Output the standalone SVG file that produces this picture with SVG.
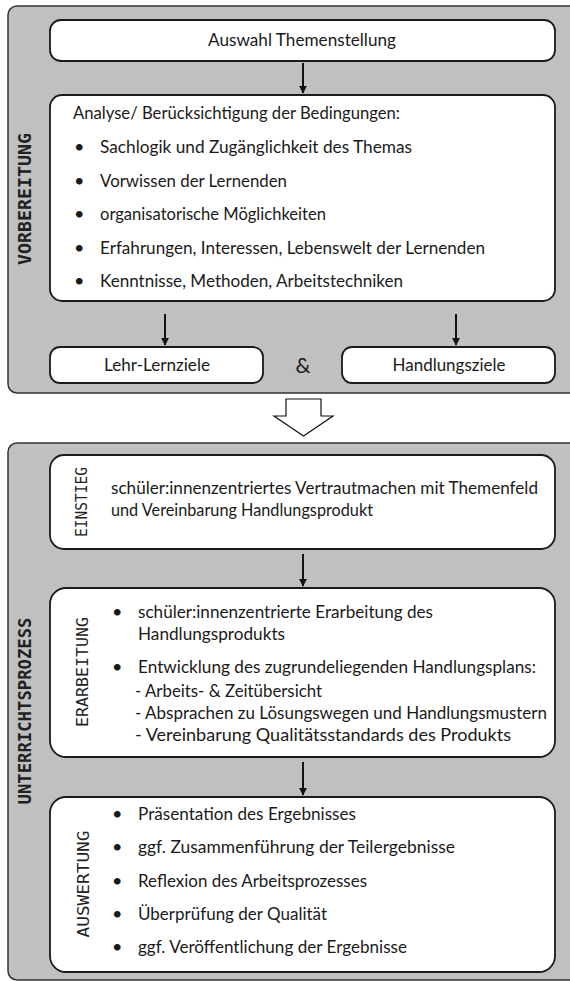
<svg xmlns="http://www.w3.org/2000/svg" width="570" height="981" viewBox="0 0 570 981">
  <defs>
    <marker id="head" viewBox="0 0 10 10" refX="9" refY="5" markerWidth="4" markerHeight="4" orient="auto" markerUnits="strokeWidth">
      <path d="M0,0 L10,5 L0,10 z" fill="#111"/>
    </marker>
    <style>
      .panel { fill: #c0c0c0; stroke: #333; stroke-width: 1.5; }
      .box { fill: #ffffff; stroke: #1a1a1a; stroke-width: 1.8; }
      .t { font-family: Lato, "Open Sans", "Liberation Sans", sans-serif; font-size: 18px; fill: #1a1a1a; }
      .c { text-anchor: middle; }
      .amp { font-size: 21px; }
      .sec { font-family: "DejaVu Sans Mono", "Liberation Mono", monospace; font-weight: bold; font-size: 17px; fill: #222; text-anchor: middle; }
      .sub { font-family: "DejaVu Sans Mono", "Liberation Mono", monospace; font-size: 16px; fill: #222; text-anchor: middle; }
      .small { font-size: 15px; }
      .link { stroke: #111; stroke-width: 2; fill: none; marker-end: url(#head); }
    </style>
  </defs>

  <rect width="570" height="981" fill="#ffffff"/>

  <!-- Vorbereitung -->
  <g id="vorbereitung">
    <rect class="panel" x="8" y="6" width="580" height="387" rx="9"/>
    <text class="sec" transform="translate(31,199) rotate(-90)" textLength="132" lengthAdjust="spacingAndGlyphs">VORBEREITUNG</text>
  </g>

  <g id="auswahl">
    <rect class="box" x="50" y="20" width="505" height="41" rx="11"/>
    <text class="t c" x="302" y="46" textLength="188" lengthAdjust="spacingAndGlyphs">Auswahl Themenstellung</text>
  </g>

  <g id="analyse">
    <rect class="box" x="50" y="95" width="505" height="206" rx="12"/>
    <text class="t" x="73" y="119" textLength="327" lengthAdjust="spacingAndGlyphs">Analyse/ Berücksichtigung der Bedingungen:</text>
    <text class="t" x="74" y="153">•</text>
    <text class="t" x="100" y="153" textLength="312" lengthAdjust="spacingAndGlyphs">Sachlogik und Zugänglichkeit des Themas</text>
    <text class="t" x="74" y="187">•</text>
    <text class="t" x="100" y="187" textLength="187" lengthAdjust="spacingAndGlyphs">Vorwissen der Lernenden</text>
    <text class="t" x="74" y="220">•</text>
    <text class="t" x="100" y="220" textLength="226" lengthAdjust="spacingAndGlyphs">organisatorische Möglichkeiten</text>
    <text class="t" x="74" y="254">•</text>
    <text class="t" x="100" y="254" textLength="385" lengthAdjust="spacingAndGlyphs">Erfahrungen, Interessen, Lebenswelt der Lernenden</text>
    <text class="t" x="74" y="287">•</text>
    <text class="t" x="100" y="287" textLength="303" lengthAdjust="spacingAndGlyphs">Kenntnisse, Methoden, Arbeitstechniken</text>
  </g>

  <g id="lehrlernziele">
    <rect class="box" x="50" y="347" width="213" height="36" rx="10"/>
    <text class="t c" x="157" y="371" textLength="106" lengthAdjust="spacingAndGlyphs">Lehr-Lernziele</text>
  </g>

  <g id="und">
    <text class="t c amp" x="303" y="373">&amp;</text>
  </g>

  <g id="handlungsziele">
    <rect class="box" x="342" y="347" width="213" height="36" rx="10"/>
    <text class="t c" x="449" y="371" textLength="113" lengthAdjust="spacingAndGlyphs">Handlungsziele</text>
  </g>

  <!-- Unterrichtsprozess -->
  <g id="unterrichtsprozess">
    <rect class="panel" x="8" y="443" width="580" height="537" rx="9"/>
    <text class="sec" transform="translate(31,711) rotate(-90)" textLength="187" lengthAdjust="spacingAndGlyphs">UNTERRICHTSPROZESS</text>
  </g>

  <g id="einstieg">
    <rect class="box" x="50" y="455" width="505" height="94" rx="14"/>
    <text class="sub small" transform="translate(87,502) rotate(-90)" textLength="70" lengthAdjust="spacingAndGlyphs">EINSTIEG</text>
    <text class="t" x="111" y="494" textLength="427" lengthAdjust="spacingAndGlyphs">schüler:innenzentriertes Vertrautmachen mit Themenfeld</text>
    <text class="t" x="111" y="516" textLength="262" lengthAdjust="spacingAndGlyphs">und Vereinbarung Handlungsprodukt</text>
  </g>

  <g id="erarbeitung">
    <rect class="box" x="50" y="588" width="505" height="169" rx="16"/>
    <text class="sub" transform="translate(88,672) rotate(-90)" textLength="110" lengthAdjust="spacingAndGlyphs">ERARBEITUNG</text>
    <text class="t" x="112" y="618">•</text>
    <text class="t" x="138" y="618" textLength="295" lengthAdjust="spacingAndGlyphs">schüler:innenzentrierte Erarbeitung des</text>
    <text class="t" x="138" y="640" textLength="147" lengthAdjust="spacingAndGlyphs">Handlungsprodukts</text>
    <text class="t" x="112" y="673">•</text>
    <text class="t" x="138" y="673" textLength="398" lengthAdjust="spacingAndGlyphs">Entwicklung des zugrundeliegenden Handlungsplans:</text>
    <text class="t" x="135" y="697" textLength="187" lengthAdjust="spacingAndGlyphs">- Arbeits- &amp; Zeitübersicht</text>
    <text class="t" x="135" y="719" textLength="412" lengthAdjust="spacingAndGlyphs">- Absprachen zu Lösungswegen und Handlungsmustern</text>
    <text class="t" x="135" y="741" textLength="376" lengthAdjust="spacingAndGlyphs">- Vereinbarung Qualitätsstandards des Produkts</text>
  </g>

  <g id="auswertung">
    <rect class="box" x="50" y="797" width="505" height="175" rx="16"/>
    <text class="sub" transform="translate(89,884) rotate(-90)" textLength="107" lengthAdjust="spacingAndGlyphs">AUSWERTUNG</text>
    <text class="t" x="112" y="820">•</text>
    <text class="t" x="138" y="820" textLength="218" lengthAdjust="spacingAndGlyphs">Präsentation des Ergebnisses</text>
    <text class="t" x="112" y="853">•</text>
    <text class="t" x="138" y="853" textLength="317" lengthAdjust="spacingAndGlyphs">ggf. Zusammenführung  der Teilergebnisse</text>
    <text class="t" x="112" y="887">•</text>
    <text class="t" x="138" y="887" textLength="229" lengthAdjust="spacingAndGlyphs">Reflexion des Arbeitsprozesses</text>
    <text class="t" x="112" y="920">•</text>
    <text class="t" x="138" y="920" textLength="189" lengthAdjust="spacingAndGlyphs">Überprüfung der Qualität</text>
    <text class="t" x="112" y="953">•</text>
    <text class="t" x="138" y="953" textLength="269" lengthAdjust="spacingAndGlyphs">ggf. Veröffentlichung der Ergebnisse</text>
  </g>

  <!-- connectors -->
  <g id="connectors">
    <line class="link" x1="303" y1="63" x2="303" y2="93"/>
    <line class="link" x1="165" y1="314" x2="165" y2="345"/>
    <line class="link" x1="456" y1="314" x2="456" y2="345"/>
    <polygon points="286,399 321,399 321,416 333,416 303.5,436 274,416 286,416" fill="#ffffff" stroke="#111" stroke-width="1.2"/>
    <line class="link" x1="303" y1="554" x2="303" y2="586"/>
    <line class="link" x1="303" y1="762" x2="303" y2="795"/>
  </g>
</svg>
